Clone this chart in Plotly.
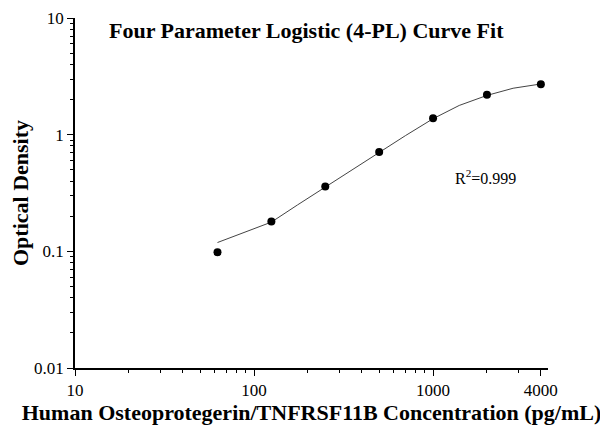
import plotly.graph_objects as go

# Data
conc = [62.5, 125, 250, 500, 1000, 2000, 4000]
od = [0.098, 0.18, 0.36, 0.71, 1.38, 2.2, 2.7]

curve_x = [62.5, 100, 125, 175, 250, 350, 500, 700, 1000, 1400, 2000, 2800, 4000]
curve_y = [0.119, 0.156, 0.178, 0.25, 0.355, 0.5, 0.71, 0.98, 1.37, 1.78, 2.17, 2.5, 2.72]

x_ticks = [10, 100, 1000, 4000]
x_ticklabels = ["10", "100", "1000", "4000"]
y_ticks = [0.01, 0.1, 1, 10]
y_ticklabels = ["0.01", "0.1", "1", "10"]
x_minor = [20, 30, 40, 50, 60, 70, 80, 90, 200, 300, 400, 500, 600, 700, 800, 900, 2000, 3000]
y_minor = [0.02, 0.03, 0.04, 0.05, 0.06, 0.07, 0.08, 0.09,
           0.2, 0.3, 0.4, 0.5, 0.6, 0.7, 0.8, 0.9,
           2, 3, 4, 5, 6, 7, 8, 9]

FONT = "Liberation Serif"

fig = go.Figure()
fig.add_trace(go.Scatter(x=curve_x, y=curve_y, mode="lines",
                         line=dict(color="#444444", width=1), hoverinfo="skip"))
fig.add_trace(go.Scatter(x=conc, y=od, mode="markers",
                         marker=dict(color="black", size=8)))

axis_common = dict(showgrid=False, zeroline=False, showline=True, linecolor="black",
                   linewidth=1.5, ticks="outside", ticklen=6, tickwidth=1, tickcolor="black",
                   automargin=False,
                   tickfont=dict(family=FONT, size=17, color="black"))

fig.update_xaxes(type="log", range=[1, 3.642], tickvals=x_ticks, ticktext=x_ticklabels,
                 minor=dict(tickvals=x_minor, ticks="outside", ticklen=3, tickcolor="black", tickwidth=1),
                 title=dict(text="<b>Human Osteoprotegerin/TNFRSF11B Concentration (pg/mL)</b>",
                            font=dict(family=FONT, size=22, color="black"), standoff=5),
                 **axis_common)
fig.update_yaxes(type="log", range=[-2, 1], tickvals=y_ticks, ticktext=y_ticklabels,
                 minor=dict(tickvals=y_minor, ticks="outside", ticklen=3, tickcolor="black", tickwidth=1),
                 title=dict(text="<b>Optical Density</b>",
                            font=dict(family=FONT, size=22, color="black"), standoff=6),
                 **axis_common)

fig.add_annotation(text="<b>Four Parameter Logistic (4-PL) Curve Fit</b>",
                   xref="paper", yref="paper", x=0.49, y=0.965, showarrow=False,
                   font=dict(family=FONT, size=22, color="black"), xanchor="center", yanchor="middle")
fig.add_annotation(text="R<sup>2</sup>=0.999", xref="paper", yref="paper",
                   x=0.868, y=0.545, showarrow=False,
                   font=dict(family=FONT, size=16, color="black"), xanchor="center", yanchor="middle")

# page body has an 8px margin, so the figure is shrunk and margins shifted accordingly
fig.update_layout(width=600, height=419, margin=dict(l=67, r=60, t=10, b=59),
                  plot_bgcolor="white", paper_bgcolor="white", showlegend=False)

fig.write_html("out.html")
